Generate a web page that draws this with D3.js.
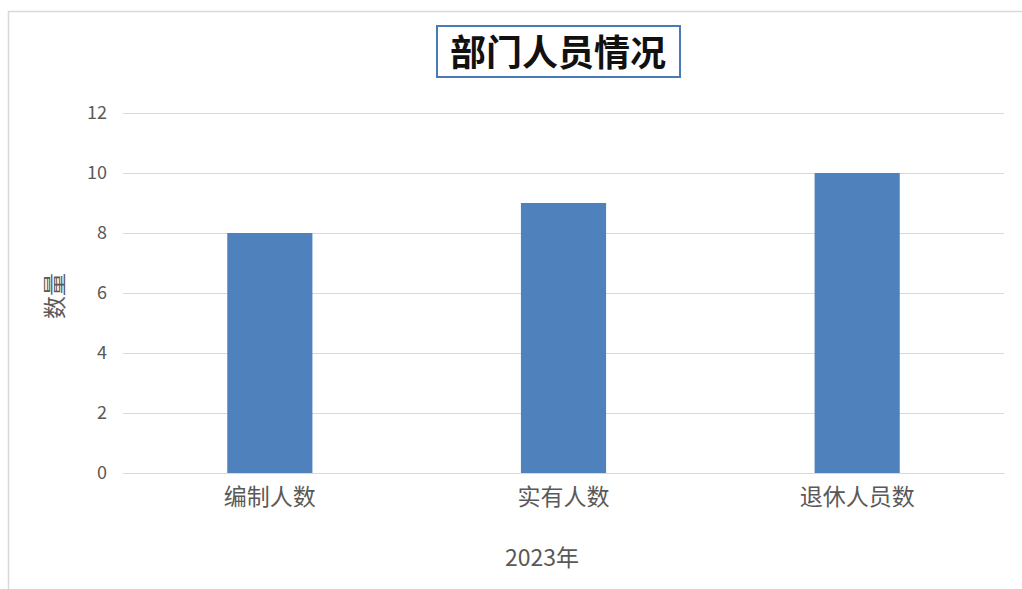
<!DOCTYPE html>
<html><head><meta charset="utf-8">
<script src="https://cdn.jsdelivr.net/npm/d3@7"></script>
<style>html,body{margin:0;padding:0;background:#fff;}svg{display:block;}</style>
</head><body>
<svg id="c" width="1022" height="589"></svg>
<script>
const categories = ["编制人数", "实有人数", "退休人员数"];
const values = [8, 9, 10];
const yTicks = [0, 2, 4, 6, 8, 10, 12];
const title = "部门人员情况";
const yTitle = "数量";
const xTitle = "2023年";

(function(){
const svg = d3.select("#c");
const font = "'Noto Sans CJK SC', 'Microsoft YaHei', sans-serif";
svg.append("path").attr("d", "M8.5,589 V11.5 H1022").attr("fill","none").attr("stroke","#d9d9d9").attr("stroke-width",1.5);

const pl = 123, pr = 1004, pt = 113, pb = 473;
const x = d3.scaleBand().domain(categories).range([pl, pr]).paddingInner(0.71).paddingOuter(0.355);
const y = d3.scaleLinear().domain([0, 12]).range([pb, pt]);

const yAxis = svg.append("g").attr("transform", `translate(${pl},0)`)
  .call(d3.axisLeft(y).tickValues(yTicks).tickSize(-(pr-pl)).tickPadding(16));
yAxis.select(".domain").remove();
yAxis.selectAll(".tick line").attr("stroke","#d9d9d9").attr("stroke-width",1);
yAxis.selectAll(".tick text").attr("fill","#595959").style("font-size","18px").style("font-family",font);

svg.selectAll("rect.bar").data(values).join("rect").attr("class","bar")
  .attr("x",(d,i)=>x(categories[i])).attr("width",x.bandwidth())
  .attr("y",d=>y(d)).attr("height",d=>y(0)-y(d)).attr("fill","#4f81bd");

const xAxis = svg.append("g").attr("transform", `translate(0,${pb})`)
  .call(d3.axisBottom(x).tickSize(0).tickPadding(16));
xAxis.select(".domain").attr("stroke","#d9d9d9");
xAxis.selectAll(".tick text").attr("fill","#595959").style("font-size","23px").style("font-family",font);

svg.append("text").attr("x", 542).attr("y", 566).attr("text-anchor","middle")
  .attr("fill","#595959").style("font-size","23px").style("font-family",font).text(xTitle);

svg.append("text").attr("transform","translate(63,296) rotate(-90)").attr("text-anchor","middle")
  .attr("fill","#595959").style("font-size","23px").style("font-family",font).text(yTitle);

svg.append("rect").attr("x",437).attr("y",26).attr("width",243).attr("height",51)
  .attr("fill","#fff").attr("stroke","#4a7ab5").attr("stroke-width",2);
svg.append("text").attr("x",558).attr("y",66).attr("text-anchor","middle")
  .attr("fill","#111").style("font-size","36px").style("font-weight","bold").style("font-family",font).text(title);
})();
</script>
</body></html>
